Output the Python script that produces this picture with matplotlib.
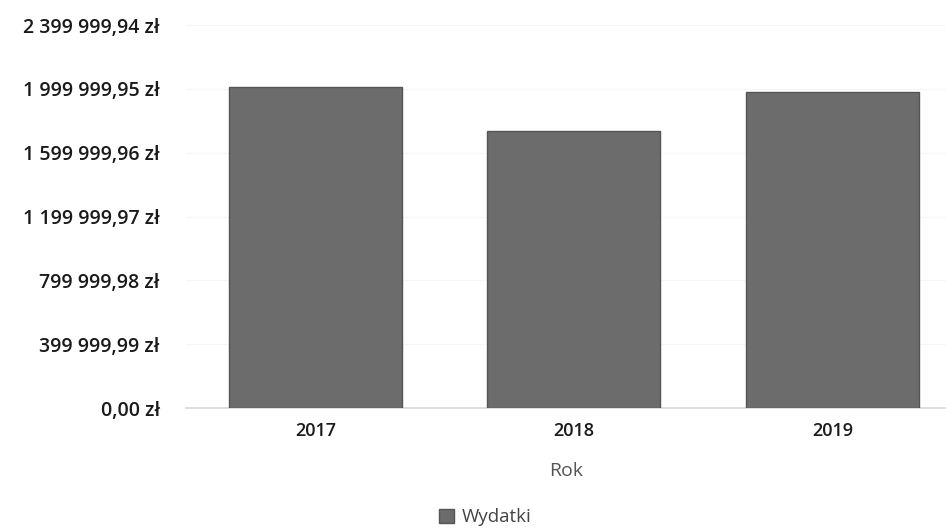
import numpy as np
import matplotlib
matplotlib.use("Agg")
import matplotlib.pyplot as plt
from matplotlib.ticker import FixedLocator, FuncFormatter
from matplotlib.patches import Patch

years = ["2017", "2018", "2019"]
wydatki = [2011600, 1736000, 1980000]
tick_values = [0.00, 399999.99, 799999.98, 1199999.97, 1599999.96, 1999999.95, 2399999.94]


def pln(v, _pos=None):
    s = f"{v:,.2f}".replace(",", " ").replace(".", ",")
    return f"{s} zł"


plt.rcParams["font.family"] = ["Open Sans", "DejaVu Sans"]

fig = plt.figure(figsize=(9.46, 5.29), dpi=100)
fig.patch.set_facecolor("white")
ax = fig.add_axes([0.197, 0.2287, 0.803, 0.724])

x = np.arange(len(years))
ax.bar(x, wydatki, width=0.67, color="#6c6c6c", edgecolor="#555555",
       linewidth=1.0, zorder=3)

ax.set_xlim(-0.5, 2.44)
ax.set_ylim(0, tick_values[-1])
ax.yaxis.set_major_locator(FixedLocator(tick_values))
ax.yaxis.set_major_formatter(FuncFormatter(pln))
ax.set_xticks(x)
ax.set_xticklabels(years)

for s in ("top", "right", "left"):
    ax.spines[s].set_visible(False)
ax.spines["bottom"].set_color("#d8d8d8")
ax.spines["bottom"].set_linewidth(1.2)
ax.tick_params(axis="y", length=0, pad=19, labelsize=14, labelcolor="#1a1a1a")
ax.tick_params(axis="x", length=0, pad=10, labelsize=13, labelcolor="#1a1a1a")
for lab in ax.get_yticklabels() + ax.get_xticklabels():
    lab.set_fontweight("semibold")
ax.grid(axis="y", color="#f6f6f6", lw=0.8, zorder=0)

ax.set_xlabel("Rok", fontsize=14, color="#555555", labelpad=16)

fig.legend(handles=[Patch(facecolor="#6c6c6c", edgecolor="#555555", label="Wydatki")],
           loc="center", bbox_to_anchor=(0.513, 0.022), frameon=False,
           fontsize=13.5, handlelength=0.8, handleheight=0.8, handletextpad=0.4,
           labelcolor="#444444")

fig.savefig("out.png", dpi=100, facecolor="white")
